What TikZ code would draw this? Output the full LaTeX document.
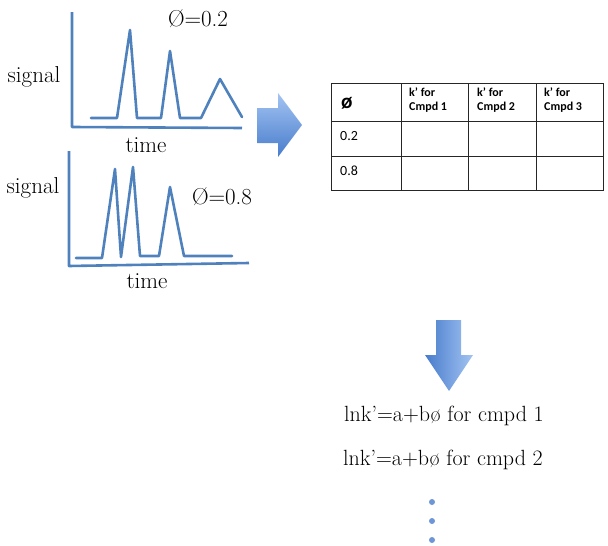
\documentclass[tikz,border=0pt]{standalone}
\usepackage{fontspec}
\newfontfamily\tabfont{Carlito}
\definecolor{plotblue}{RGB}{79,129,189}
\definecolor{arrowlight}{RGB}{163,196,242}
\definecolor{arrowdark}{RGB}{72,124,204}
\definecolor{dotblue}{RGB}{110,150,215}
\tikzset{
	axis/.style={draw=plotblue, line width=2.6pt, line join=round},
	trace/.style={draw=plotblue, line width=2.6pt, line join=round, line cap=round},
	lbl/.style={font=\fontsize{23}{27}\selectfont, inner sep=0pt},
	eqn/.style={font=\fontsize{22}{26}\selectfont, inner sep=0pt},
	grid/.style={draw=black!85, line width=0.9pt},
	headcell/.style={font=\tabfont\bfseries\fontsize{12}{14}\selectfont, inner sep=0pt, align=left},
	numcell/.style={font=\tabfont\fontsize{14}{16}\selectfont, inner sep=0pt}
}
\begin{document}
\begin{tikzpicture}[x=1pt,y=-1pt]
	\useasboundingbox (0,0) rectangle (608,546);
	% run at 0.2
	\draw[axis] (72,12) -- (72,127) -- (242,128);
	\draw[trace] (91,118) -- (117,118) -- (130,30) -- (137,118) -- (161,118) -- (170,51) -- (180,118) -- (201,118) -- (220,79) -- (242,117);
	\node[lbl, anchor=base] (sigA) at (34,82) {signal};
	\node[lbl, anchor=base] (timeA) at (146,152) {time};
	\node[lbl, anchor=base] (phiA) at (198,26) {Ø=0.2};
	% run at 0.8
	\draw[axis] (69,151) -- (69,266) -- (249,263);
	\draw[trace] (76,258) -- (102,258) -- (115,169) -- (121,257) -- (133,167) -- (140,256) -- (159,256) -- (170,187) -- (184,256) -- (232,256);
	\node[lbl, anchor=base] (sigB) at (33,193) {signal};
	\node[lbl, anchor=base] (timeB) at (147,288) {time};
	\node[lbl, anchor=base] (phiB) at (222,204) {Ø=0.8};
	% right arrow
	\shade[top color=arrowlight, bottom color=arrowdark] (257,108) -- (278,108) -- (278,93) -- (302,125) -- (278,157) -- (278,143) -- (257,143) -- cycle;
	% table
	\draw[grid] (331,83) rectangle (603,190);
	\foreach \x in {401,468,536}
		\draw[grid] (\x,83) -- (\x,190);
	\foreach \y in {121,156}
		\draw[grid] (331,\y) -- (603,\y);
	\node[headcell, font=\tabfont\bfseries\fontsize{21}{23}\selectfont, anchor=base west] (phiH) at (341,108) {ø};
	\foreach \x/\n in {409/1,477/2,544/3}
		\node[headcell, anchor=north west] (kH\n) at (\x,88) {k’ for\\Cmpd \n};
	\node[numcell, anchor=base west] (rowA) at (340,140) {0.2};
	\node[numcell, anchor=base west] (rowB) at (340,175) {0.8};
	% down arrow
	\shade[left color=arrowdark, right color=arrowlight] (436,320) -- (461,320) -- (461,355) -- (473,355) -- (449,391) -- (425,355) -- (436,355) -- cycle;
	\node[eqn, anchor=base] (eqA) at (444,421) {lnk’=a+bø for cmpd 1};
	\node[eqn, anchor=base] (eqB) at (443,465) {lnk’=a+bø for cmpd 2};
	\foreach \y in {502,521,540}
		\fill[dotblue] (432,\y) circle (3);
\end{tikzpicture}
\end{document}
